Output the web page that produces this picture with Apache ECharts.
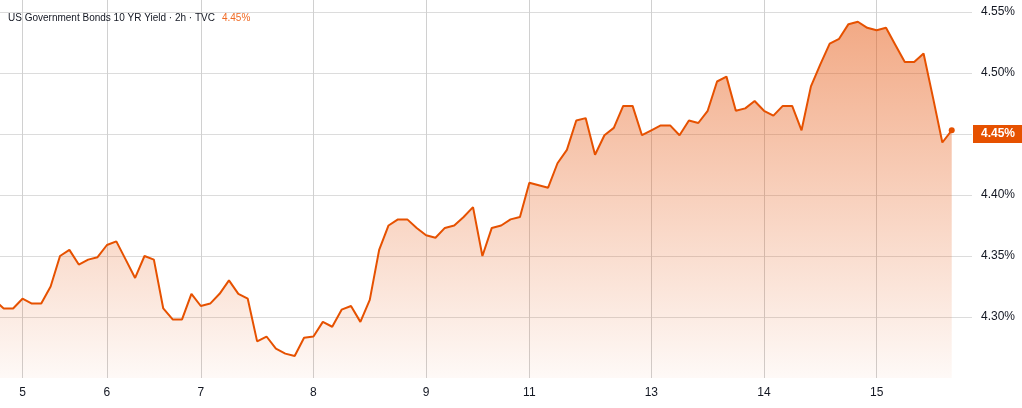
<!DOCTYPE html>
<html>
<head>
<meta charset="utf-8">
<script src="https://cdn.jsdelivr.net/npm/echarts@6/dist/echarts.min.js"></script>
<style>
html,body{margin:0;padding:0;background:#fff;}
#chart{width:1022px;height:408px;}
</style>
</head>
<body>
<div id="chart"></div>
<script>
// 2h bars; first value sits one bar before the visible left edge
const firstIndex = -1;
const yields = [
  4.314, 4.307, 4.307, 4.315, 4.311, 4.311, 4.325, 4.350, 4.355, 4.343,
  4.347, 4.349, 4.359, 4.362, 4.347, 4.332, 4.350, 4.347, 4.307, 4.298,
  4.298, 4.319, 4.309, 4.311, 4.319, 4.330, 4.319, 4.315, 4.280, 4.284,
  4.274, 4.270, 4.268, 4.283, 4.284, 4.296, 4.292, 4.306, 4.309, 4.296,
  4.314, 4.355, 4.375, 4.380, 4.380, 4.373, 4.367, 4.365, 4.373, 4.375,
  4.382, 4.390, 4.350, 4.373, 4.375, 4.380, 4.382, 4.410, 4.408, 4.406,
  4.426, 4.437, 4.461, 4.463, 4.433, 4.449, 4.455, 4.473, 4.473, 4.449,
  4.453, 4.457, 4.457, 4.449, 4.461, 4.459, 4.469, 4.493, 4.497, 4.469,
  4.471, 4.477, 4.469, 4.465, 4.473, 4.473, 4.453, 4.489, 4.507, 4.524,
  4.528, 4.540, 4.542, 4.537, 4.535, 4.537, 4.523, 4.509, 4.509, 4.516,
  4.480, 4.443, 4.453
];
// bar index where each day begins, and its label
const dayIndices = [2, 11, 21, 33, 45, 56, 69, 81, 93];
const dayLabels = ['5', '6', '7', '8', '9', '11', '13', '14', '15'];
const yTicks = [4.30, 4.35, 4.40, 4.45, 4.50, 4.55];
const titleText = 'US Government Bonds 10 YR Yield · 2h · TVC';

const points = yields.map((v, k) => [k + firstIndex, v]);
const lastPoint = points[points.length - 1];
const lastLabel = lastPoint[1].toFixed(2) + '%';
const ORANGE = '#E65100';
const FONT = 'Liberation Sans, Arial, sans-serif';

const chart = echarts.init(document.getElementById('chart'), null, {renderer: 'canvas'});
chart.setOption({
  animation: false,
  backgroundColor: '#ffffff',
  title: {
    text: '{a|' + titleText + '} {b|' + lastLabel + '}',
    left: 3, top: 4,
    textStyle: {
      fontWeight: 'normal',
      rich: {
        a: {fontFamily: FONT, fontSize: 10, fontWeight: 'normal', color: '#131722'},
        b: {fontFamily: FONT, fontSize: 10, fontWeight: 'normal', color: '#F06A23', padding: [0, 0, 0, 2]}
      }
    }
  },
  grid: {left: 0, right: 50, top: 0, bottom: 30, containLabel: false},
  xAxis: {
    type: 'value',
    min: -0.394, max: 103.16,
    axisLine: {show: false},
    axisTick: {show: false, customValues: dayIndices},
    axisLabel: {
      customValues: dayIndices,
      formatter: v => { const k = dayIndices.indexOf(Math.round(v)); return k >= 0 ? dayLabels[k] : ''; },
      color: '#131722', fontSize: 12, margin: 9, fontFamily: FONT
    },
    splitLine: {show: true, lineStyle: {color: '#d0d0d0', width: 1}}
  },
  yAxis: {
    type: 'value',
    position: 'right',
    min: 4.25, max: 4.5598,
    axisLine: {show: false},
    axisTick: {show: false, customValues: yTicks},
    axisLabel: {
      customValues: yTicks,
      formatter: v => v.toFixed(2) + '%',
      color: '#131722', fontSize: 12, margin: 9, fontFamily: FONT
    },
    splitLine: {show: true, lineStyle: {color: '#dcdcdc', width: 1}}
  },
  series: [{
    type: 'line',
    data: points,
    showSymbol: false,
    clip: true,
    lineStyle: {color: ORANGE, width: 2},
    itemStyle: {color: ORANGE},
    areaStyle: {
      color: new echarts.graphic.LinearGradient(0, 0, 0, 1, [
        {offset: 0, color: 'rgba(230,90,20,0.74)'},
        {offset: 1, color: 'rgba(230,90,20,0.05)'}
      ])
    },
    markPoint: {
      silent: true,
      symbol: 'circle', symbolSize: 6,
      itemStyle: {color: ORANGE},
      label: {show: false},
      data: [{coord: lastPoint}]
    },
    markLine: {
      silent: true,
      symbol: 'none',
      z: 10,
      lineStyle: {color: 'rgba(0,0,0,0)', width: 0},
      label: {
        show: true, position: 'end', distance: 1,
        formatter: lastLabel,
        backgroundColor: ORANGE, color: '#ffffff',
        fontWeight: 'bold', fontSize: 12, fontFamily: FONT,
        padding: [3, 8, 3, 8]
      },
      data: [{yAxis: lastPoint[1]}]
    }
  }]
});
</script>
</body>
</html>
